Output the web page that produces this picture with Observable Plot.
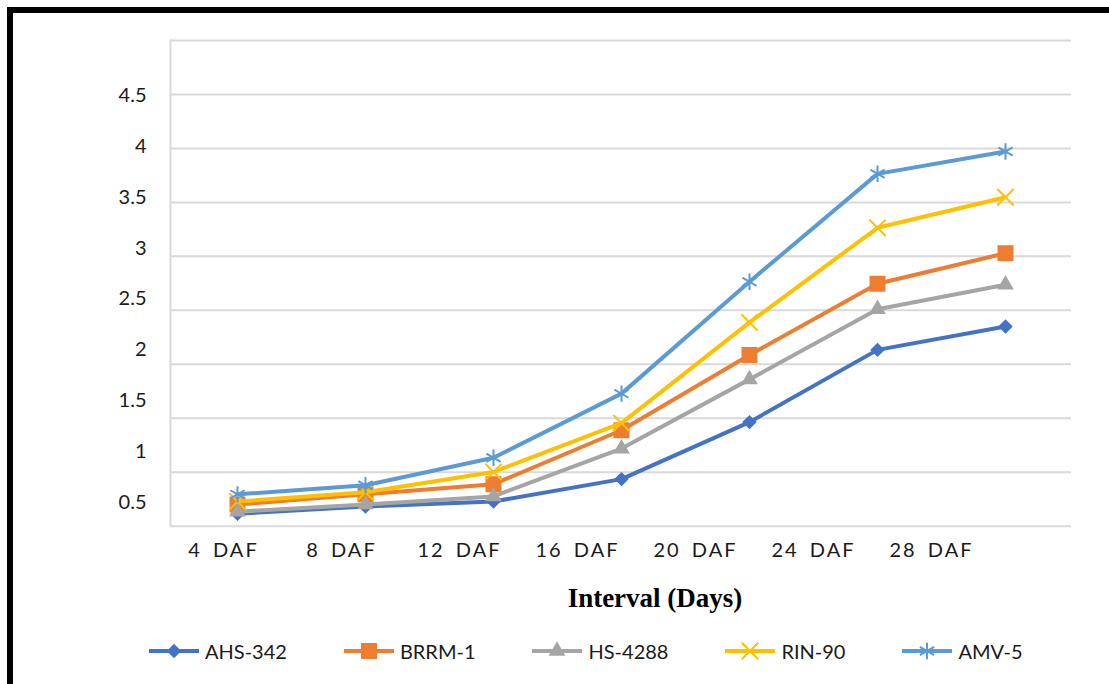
<!DOCTYPE html>
<html>
<head>
<meta charset="utf-8">
<script src="https://cdn.jsdelivr.net/npm/d3@7"></script>
<script src="https://cdn.jsdelivr.net/npm/@observablehq/plot@0.6"></script>
<style>
  html, body { margin: 0; padding: 0; background: #fff; }
  #chart { position: relative; width: 1109px; height: 684px; overflow: hidden; background: #fff; }
  #chart svg.layer { position: absolute; left: 0; top: 0; }
  .xlabels text { letter-spacing: 2px; word-spacing: 4px; }
  #frameBorder { position: absolute; left: 7px; top: 7px; right: -10px; bottom: -10px;
    border-top: 6px solid #000; border-left: 6px solid #000; pointer-events: none; }
  #xtitle { position: absolute; left: 455px; width: 400px; top: 585px; text-align: center;
    font-family: "Liberation Serif", "Times New Roman", serif; font-weight: bold; font-size: 27px; line-height: 27px; color: #000; }
  #legend { position: absolute; left: 149px; top: 639px; height: 24px; display: flex; align-items: center; gap: 57px;
    font-family: Lato, sans-serif; font-size: 20px; color: #1a1a1a; }
  #legend .item { display: flex; align-items: center; }
  #legend .item span { margin-left: 6px; line-height: 24px; }
</style>
</head>
<body>
<div id="chart"></div>
<script>
// ---- data ----
const categories = ["4 DAF", "8 DAF", "12 DAF", "16 DAF", "20 DAF", "24 DAF", "28 DAF"];
const seriesNames = ["AHS-342", "BRRM-1", "HS-4288", "RIN-90", "AMV-5"];
const ahs342 = [0.39, 0.46, 0.51, 0.73, 1.29, 2.00, 2.23];
const brrm1  = [0.48, 0.58, 0.68, 1.21, 1.95, 2.65, 2.95];
const hs4288 = [0.41, 0.48, 0.56, 1.03, 1.71, 2.40, 2.64];
const rin90  = [0.51, 0.60, 0.80, 1.28, 2.27, 3.20, 3.50];
const amv5   = [0.58, 0.67, 0.94, 1.57, 2.67, 3.73, 3.95];
const yTickValues = [0.5, 1, 1.5, 2, 2.5, 3, 3.5, 4, 4.5];
const gridLevels = [0, 0.5, 1, 1.5, 2, 2.5, 3, 3.5, 4, 4.5];
const xTitle = "Interval (Days)";

// ---- styles ----
const seriesValues = [ahs342, brrm1, hs4288, rin90, amv5];
const colors = ["#4472C4", "#ED7D31", "#A5A5A5", "#FFC000", "#5B9BD5"];
const symbols = ["diamond2", "square", "triangle", "times", "asterisk"];
const d3symbols = [d3.symbolDiamond2, d3.symbolSquare, d3.symbolTriangle, d3.symbolTimes, d3.symbolAsterisk];
const radii = [6.5, 9, 6.2, 7.5, 7.8];
const filled = [true, true, true, false, false];

const rows = seriesNames.map((name, i) => categories.map((c, j) => ({series: name, cat: c, value: seriesValues[i][j]})));

const W = 1109, H = 684;
const chart = document.getElementById("chart");

// Background layer: grid, axis line and category labels
const bg = Plot.plot({
  width: W, height: H,
  marginLeft: 170, marginRight: 38, marginTop: 40, marginBottom: 158.3,
  className: "xlabels",
  style: {background: "transparent", fontFamily: "Lato, sans-serif", fontSize: "20px", color: "#1a1a1a"},
  x: {type: "point", domain: categories, range: [164, 990], padding: 0.5, axis: null},
  y: {domain: [0, 4.5], axis: null},
  marks: [
    Plot.ruleY(gridLevels, {stroke: "#d9d9d9", strokeWidth: 2}),
    Plot.frame({anchor: "left", stroke: "#d9d9d9", strokeWidth: 2}),
    Plot.axisX({tickSize: 0, tickPadding: 17, label: null, fontSize: 20, fill: "#1a1a1a"})
  ]
});
bg.classList.add("layer");
chart.appendChild(bg);

// Foreground layer: series and value labels
const marks = [Plot.axisY(yTickValues, {tickSize: 0, tickPadding: 24, label: null, fontSize: 20, fill: "#1a1a1a", tickFormat: d3.format("~g")})];
rows.forEach((r, i) => {
  marks.push(Plot.line(r, {x: "cat", y: "value", stroke: colors[i], strokeWidth: 4}));
  marks.push(Plot.dot(r, filled[i]
    ? {x: "cat", y: "value", symbol: () => symbols[i], r: radii[i], fill: colors[i], stroke: "none"}
    : {x: "cat", y: "value", symbol: () => symbols[i], r: radii[i], fill: "none", stroke: colors[i], strokeWidth: 2}));
});
const fg = Plot.plot({
  width: W, height: H,
  marginLeft: 170, marginRight: 38, marginTop: 40, marginBottom: 158,
  style: {background: "transparent", fontFamily: "Lato, sans-serif", fontSize: "20px", color: "#1a1a1a"},
  x: {type: "point", domain: categories, padding: 0.5, axis: null},
  y: {domain: [0.5, 4.5], range: [502, 95], axis: null},
  symbol: {type: "identity"},
  marks
});
fg.classList.add("layer");
chart.appendChild(fg);

// Axis title
const t = document.createElement("div");
t.id = "xtitle";
t.textContent = xTitle;
chart.appendChild(t);

// Legend
const lg = document.createElement("div");
lg.id = "legend";
seriesNames.forEach((name, i) => {
  const item = document.createElement("div");
  item.className = "item";
  const sz = Math.PI * radii[i] * radii[i];
  const path = d3.symbol(d3symbols[i], sz)();
  const sym = filled[i]
    ? `<path d="${path}" transform="translate(25,11)" fill="${colors[i]}"/>`
    : `<path d="${path}" transform="translate(25,11)" fill="none" stroke="${colors[i]}" stroke-width="2"/>`;
  item.innerHTML = `<svg width="50" height="22"><line x1="0" x2="50" y1="11" y2="11" stroke="${colors[i]}" stroke-width="4"/>${sym}</svg><span>${name}</span>`;
  lg.appendChild(item);
});
chart.appendChild(lg);

// Outer border
const b = document.createElement("div");
b.id = "frameBorder";
chart.appendChild(b);
</script>
</body>
</html>
